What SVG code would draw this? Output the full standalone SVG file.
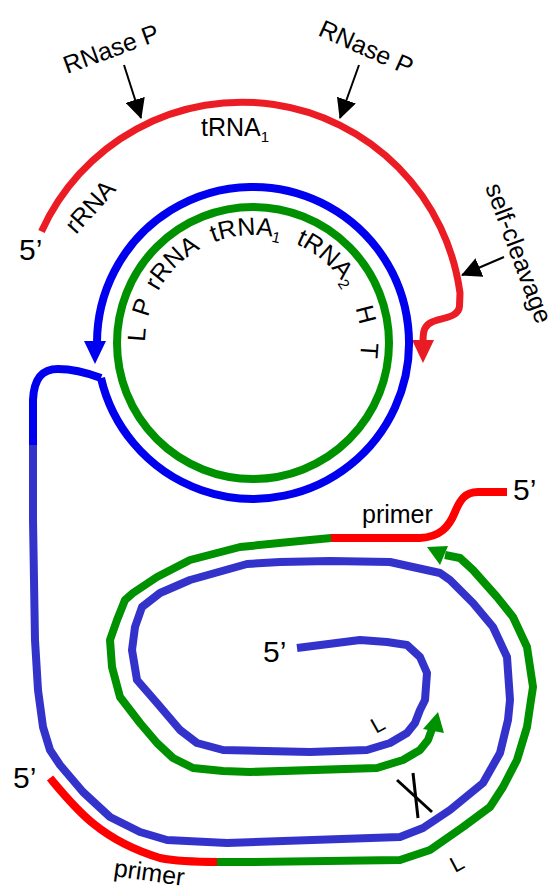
<svg xmlns="http://www.w3.org/2000/svg" width="552" height="895" viewBox="0 0 552 895">
  <style>
    text { font-family: "Liberation Sans", Arial, sans-serif; fill: #000; }
    .lbl { font-size: 25px; }
    .ring { font-size: 25px; }
    .five { font-size: 30px; }
    .mark { font-size: 22px; }
    .sub { font-size: 15px; }
    .strand { fill: none; stroke-linejoin: round; stroke-linecap: butt; }
    .red { stroke: #ec1c24; stroke-width: 7; }
    .primer { stroke: #ff0000; stroke-width: 8; }
    .blue { stroke: #0000ee; stroke-width: 8; }
    .blue2 { stroke: #3333cc; stroke-width: 8; }
    .green { stroke: #009100; stroke-width: 8; }
    .ptr { stroke: #000; stroke-width: 2; fill: none; }
    .cross { stroke: #000; stroke-width: 3; }
  </style>
  <defs>
    <marker id="tip" viewBox="0 0 20 20" refX="19" refY="10" markerWidth="20" markerHeight="20" markerUnits="userSpaceOnUse" orient="auto">
      <path d="M0,0 L20,10 L0,20 z" fill="#000"/>
    </marker>
    <!-- baseline circle for the labels inside the ring -->
    <path id="ringpath" d="M146.6,361.8 A108,108 0 1 1 354.5,379.9"/>
  </defs>

  <!-- precursor transcript (red) -->
  <g id="transcript">
    <path class="strand red" d="M41.5,231.5 A220,220 0 0 1 460,293 L459.5,306 C459,318 440,318 432,322 C425,325 423,330 423,341"/>
    <polygon points="412,340 434,340 423,363" fill="#e81c24"/>
    <text class="lbl" transform="translate(76,235) rotate(-48)">rRNA</text>
    <text class="lbl" x="201" y="136">tRNA<tspan class="sub" dy="6">1</tspan></text>
    <text class="five" x="19" y="260">5’</text>
  </g>

  <!-- processing sites -->
  <g id="rnaseP-left">
    <text class="lbl" transform="translate(67,74) rotate(-20)">RNase P</text>
  </g>
  <g id="rnaseP-right">
    <text class="lbl" transform="translate(317,35) rotate(24)">RNase P</text>
  </g>
  <g id="self-cleavage">
    <text class="lbl" font-size="23" transform="translate(485,187) rotate(69.5)">self-cleavage</text>
  </g>

  <!-- circular template: blue outer strand, green inner strand -->
  <g id="circle">
    <circle cx="253" cy="343" r="136" class="strand green"/>
    <path class="strand blue" d="M101,378 A156,156 0 1 0 97,342"/>
    <polygon points="84,341 106,341 95,364" fill="#0000ee"/>
    <text class="ring"><textPath href="#ringpath" startOffset="27" text-anchor="middle">L</textPath></text>
    <text class="ring"><textPath href="#ringpath" startOffset="53" text-anchor="middle">P</textPath></text>
    <text class="ring"><textPath href="#ringpath" startOffset="103" text-anchor="middle">rRNA</textPath></text>
    <text class="ring"><textPath href="#ringpath" startOffset="182" text-anchor="middle">tRNA<tspan class="sub" dy="5">1</tspan></textPath></text>
    <text class="ring"><textPath href="#ringpath" startOffset="266" text-anchor="middle">tRNA<tspan class="sub" dy="5">2</tspan></textPath></text>
    <text class="ring"><textPath href="#ringpath" startOffset="331" text-anchor="middle">H</textPath></text>
    <text class="ring"><textPath href="#ringpath" startOffset="365" text-anchor="middle">T</textPath></text>
  </g>

  <!-- rolling-circle product and its copies -->
  <g id="spiral">
    <path class="strand blue" d="M101,378 C85,372 70,369 58,369 C42,369 34,378 33,400 L33,446"/>
    <path class="strand blue2" d="M33,445 L33,520 L35,640 L38,690 L43,727 L50,750 L60,765 L83,792 L110,817 L140,832 L167,840 L227,843 L400,837 L423,828 L450,810 L483,783 L500,753 L508,720 L510,700 L507,657 L493,627 L473,603 L450,580 L440,573 L390,562 L330,561 L280,562 L247,564 L190,580 L160,593 L142,607 L135,627 L132,650 L137,680 L157,703 L180,730 L197,743 L223,750 L310,752 L367,750 L390,743 L407,733 L415,723 L420,710 L425,700 L427,673 L420,657 L407,645 L387,642 L360,640 L297,648"/>
    <text class="five" x="263" y="662">5’</text>
  </g>

  <g id="copy-inner">
    <path class="strand primer" d="M507,492 L478,492 C465,492 460,500 455,512 C449,527 440,537 420,538 L330,538"/>
    <path class="strand green" d="M331,538 L310,540 L240,547 L190,560 L157,577 L133,593 L125,600 L117,620 L110,640 L112,667 L120,697 L140,723 L157,743 L173,758 L193,768 L223,771 L250,772 L377,768 L403,760 L420,750 L428,740 L432,729"/>
    <polygon points="423,729 444,733 438,712" fill="#009100"/>
    <text class="lbl" font-size="26" x="362" y="523">primer</text>
    <text class="five" x="513" y="500">5’</text>
    <text class="mark" transform="translate(376,734) rotate(-29)">L</text>
  </g>

  <g id="copy-outer">
    <path class="strand primer" d="M50,778 C75,808 100,840 160,858 C180,862 200,862 218,862"/>
    <path class="strand green" d="M217,862 L250,862 L400,860 L430,850 L463,827 L490,807 L503,787 L517,760 L527,727 L531,700 L533,687 L527,647 L513,617 L497,597 L473,570 L460,558 L445,555"/>
    <polygon points="448,546 440,565 427,547" fill="#009100"/>
    <text class="lbl" font-size="26" transform="translate(113,876) rotate(8)">primer</text>
    <text class="five" x="13" y="788">5’</text>
    <text class="mark" transform="translate(455,873) rotate(-28)">L</text>
  </g>

  <!-- pointers and the blocked crossing -->
  <g id="connectors">
    <line class="ptr" x1="124" y1="65" x2="141" y2="118" marker-end="url(#tip)"/>
    <line class="ptr" x1="359" y1="65" x2="340" y2="118" marker-end="url(#tip)"/>
    <line class="ptr" x1="504" y1="257" x2="462" y2="275" marker-end="url(#tip)"/>
    <line class="cross" x1="397" y1="780" x2="432" y2="812"/>
    <line class="cross" x1="413" y1="773" x2="418" y2="818"/>
  </g>
</svg>
